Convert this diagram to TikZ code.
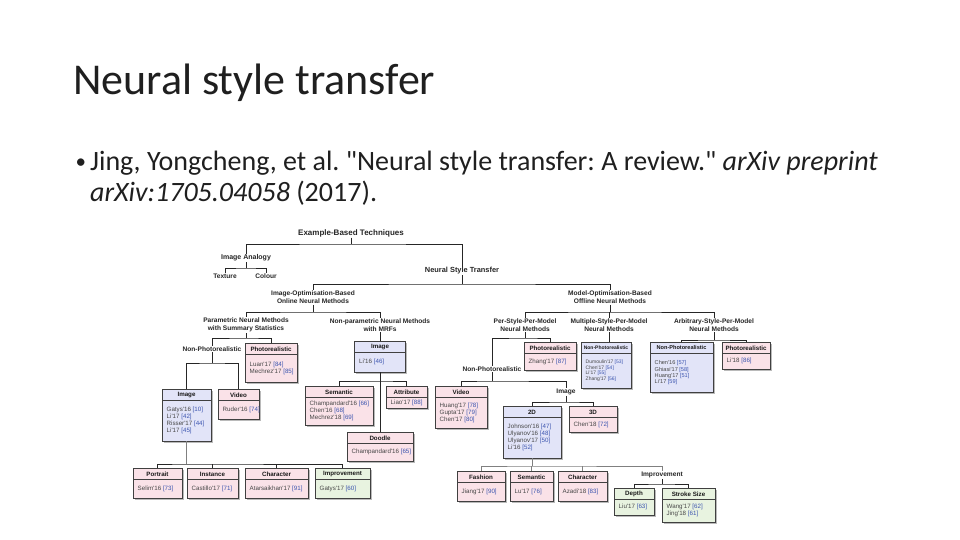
\documentclass[tikz,border=0pt]{standalone}
\usepackage{fontspec}
\setmainfont{Carlito}
\newfontfamily\cfont{Carlito}
\newfontfamily\dfont{Liberation Sans}
\usetikzlibrary{fit,shadows,calc}
\definecolor{pinkf}{RGB}{250,226,232}
\definecolor{lavf}{RGB}{226,228,248}
\definecolor{grnf}{RGB}{232,243,224}
\definecolor{refc}{RGB}{60,85,175}
\newcommand\rf[1]{\textcolor{refc}{[#1]}}
\tikzset{
  lbl/.style={font=\dfont\bfseries\fontsize{6.6}{7.9}\selectfont, text=black!85, align=center, inner sep=0.8pt},
  ubx/.style={draw=black!75, line width=0.7pt, inner sep=0pt,
    drop shadow={shadow xshift=1.6pt, shadow yshift=-1.6pt, opacity=0.45, fill=black!60}},
  sepl/.style={draw=black!75, line width=0.8pt},
  hdr/.style={text=black!90, inner sep=0pt},
  bdy/.style={text=black!72, align=left, inner sep=0pt, anchor=west},
  con/.style={draw=black!85, line width=0.9pt},
  conl/.style={draw=black!50, line width=0.7pt},
  slide/.style={anchor=base west, inner sep=0, text=black!88},
}
% #1 size, #2 name, #3 x1, #4 y1, #5 x2, #6 y2, #7 fill, #8 header, #9 body
\newcommand\ubox[9][6.2]{%
  \node[ubx, fill=#7, fit={(#3,#4)(#5,#6)}] (#2) {};
  \draw[sepl] (#3,{#4+11.5}) -- (#5,{#4+11.5});
  \node[hdr, font=\dfont\bfseries\fontsize{#1}{#1}\selectfont] (#2-h) at ({(#3+#5)/2},{#4+5.9}) {#8};
  \node[bdy, font=\dfont\fontsize{#1}{\fpeval{1.13*#1}}\selectfont] (#2-b) at ({#3+4.5},{(#4+11.5+#6)/2}) {#9};
}
\frenchspacing
\begin{document}
\begin{tikzpicture}[x=1pt,y=-1pt]
\fill[white] (0,0) rectangle (960,540);
\useasboundingbox (0,0) rectangle (960,540);

% slide text
\node[slide, font=\cfont\fontsize{44}{53}\selectfont] (title) at (73,95) {Neural style transfer};
\node[slide, font=\cfont\fontsize{21}{25}\selectfont] (bul) at (75.5,169) {•};
\node[slide, font=\cfont\fontsize{28}{34}\selectfont] (cite1) at (90,171) {Jing, Yongcheng, et al. "Neural style transfer: A review." \textit{arXiv preprint}};
\node[slide, font=\cfont\fontsize{28}{34}\selectfont] (cite2) at (90,201) {\textit{arXiv:1705.04058} (2017).};

% labels
\node[lbl, font=\dfont\bfseries\fontsize{8}{9}\selectfont] (ebt) at (351,233) {Example-Based Techniques};
\node[lbl, font=\dfont\bfseries\fontsize{7}{8}\selectfont] (ia) at (246,258) {Image Analogy};
\node[lbl] (tex) at (225,276) {Texture};
\node[lbl] (col) at (266,276) {Colour};
\node[lbl, font=\dfont\bfseries\fontsize{7.4}{8.5}\selectfont] (nst) at (462,271) {Neural Style Transfer};
\node[lbl] (iob) at (313,297.5) {Image-Optimisation-Based\\Online Neural Methods};
\node[lbl] (mob) at (610,297.5) {Model-Optimisation-Based\\Offline Neural Methods};
\node[lbl] (pnm) at (246,325) {Parametric Neural Methods\\with Summary Statistics};
\node[lbl] (npm) at (380,325) {Non-parametric Neural Methods\\with MRFs};
\node[lbl] (pspm) at (525,325) {Per-Style-Per-Model\\Neural Methods};
\node[lbl] (mspm) at (609,325) {Multiple-Style-Per-Model\\Neural Methods};
\node[lbl] (aspm) at (714,325) {Arbitrary-Style-Per-Model\\Neural Methods};
\node[lbl] (np1) at (212,349) {Non-Photorealistic};
\node[lbl] (np2) at (492,369) {Non-Photorealistic};
\node[lbl] (img3) at (566,392) {Image};
\node[lbl] (impr2) at (662,475) {Improvement};

% boxes
\ubox{ph1}{245}{343}{297}{382}{pinkf}{Photorealistic}{Luan'17 \rf{84}\\Mechrez'17 \rf{85}}
\ubox{im1}{162}{389}{211}{441}{lavf}{Image}{Gatys'16 \rf{10}\\Li'17 \rf{42}\\Risser'17 \rf{44}\\Li'17 \rf{45}}
\ubox{vid1}{218}{389}{259}{419}{pinkf}{Video}{Ruder'16 \rf{74}}
\ubox{im2}{354.5}{341}{405.5}{372}{lavf}{Image}{Li'16 \rf{46}}
\ubox{sem1}{305}{386}{373}{425}{pinkf}{Semantic}{Champandard'16 \rf{66}\\Chen'16 \rf{68}\\Mechrez'18 \rf{69}}
\ubox{att}{386}{386}{427}{408}{pinkf}{Attribute}{Liao'17 \rf{88}}
\ubox{dood}{347}{432}{413}{461}{pinkf}{Doodle}{Champandard'16 \rf{65}}
\ubox{por}{133}{468}{182}{498}{pinkf}{Portrait}{Selim'16 \rf{73}}
\ubox{ins}{187}{468}{238}{498}{pinkf}{Instance}{Castillo'17 \rf{71}}
\ubox{chr1}{245}{468}{308}{498}{pinkf}{Character}{Atarsaikhan'17 \rf{91}}
\ubox{imp1}{315}{468}{370}{498}{grnf}{Improvement}{Gatys'17 \rf{60}}
\ubox{ph2}{524}{342}{576}{370}{pinkf}{Photorealistic}{Zhang'17 \rf{87}}
\ubox{vid2}{435}{386}{487}{428}{pinkf}{Video}{Huang'17 \rf{78}\\Gupta'17 \rf{79}\\Chen'17 \rf{80}}
\ubox{d2}{503}{406}{561}{458}{lavf}{2D}{Johnson'16 \rf{47}\\Ulyanov'16 \rf{48}\\Ulyanov'17 \rf{50}\\Li'16 \rf{52}}
\ubox{d3}{569}{406}{617}{432}{pinkf}{3D}{Chen'18 \rf{72}}
\ubox{fash}{457}{471}{505}{501}{pinkf}{Fashion}{Jiang'17 \rf{90}}
\ubox{sem2}{510}{471}{553}{501}{pinkf}{Semantic}{Lu'17 \rf{76}}
\ubox{chr2}{558}{471}{607}{501}{pinkf}{Character}{Azadi'18 \rf{83}}
\ubox{dep}{614}{488}{654}{515}{grnf}{Depth}{Liu'17 \rf{63}}
\ubox{stk}{662}{488}{715}{522}{grnf}{Stroke Size}{Wang'17 \rf{62}\\Jing'18 \rf{61}}
\ubox[5]{np3}{581}{342}{631}{388}{lavf}{Non-Photorealistic}{Dumoulin'17 \rf{53}\\Chen'17 \rf{54}\\Li'17 \rf{55}\\Zhang'17 \rf{56}}
\ubox[5.6]{np4}{650}{342}{713}{392}{lavf}{Non-Photorealistic}{Chen'16 \rf{57}\\Ghiasi'17 \rf{58}\\Huang'17 \rf{51}\\Li'17 \rf{59}}
\ubox{ph3}{722}{342}{770}{369}{pinkf}{Photorealistic}{Li'18 \rf{86}}

% bus coordinates
\coordinate (b0) at (351,244);
\coordinate (b1) at (246,268);
\coordinate (b2) at (462,284);
\coordinate (b3) at (313,312);
\coordinate (b4) at (610,312);
\coordinate (b5) at (246,338);
\coordinate (b6) at (212,363);
\coordinate (b7) at (186.5,464);
\coordinate (b8) at (380,381);
\coordinate (b9) at (525,338);
\coordinate (b10) at (492,381);
\coordinate (b11) at (566,402);
\coordinate (b12) at (532,466);
\coordinate (b13) at (662,484);
\coordinate (b14) at (714,340);

% connectors
\draw[con] (ebt.south) -- (b0);
\draw[con] (ia.north) |- (b0) -| (nst.north);
\draw[con] (ia.south) -- (b1);
\draw[con] (tex.north) |- (b1) -| (col.north);
\draw[con] (nst.south) -- (b2);
\draw[con] (iob.north) |- (b2) -| (mob.north);
\draw[con] (iob.south) -- (b3);
\draw[con] (pnm.north) |- (b3) -| (npm.north);
\draw[con] (mob.south) -- (b4);
\draw[con] (pspm.north) |- (b4) -| (aspm.north);
\draw[con] (mspm.north) -- (mspm.north |- b4);
\draw[con] (mspm.south) -- (mspm.south |- np3.north);
\draw[con] (pnm.south) -- (b5);
\draw[con] (np1.north) |- (b5) -| (ph1.north);
\draw[con] (np1.south) -- (b6);
\draw[con] (im1.north) |- (b6) -| (vid1.north);
\draw[conl] (im1.south) -- (b7);
\draw[con] (por.north) |- (b7) -| (imp1.north);
\draw[con] (ins.north) -- (ins.north |- b7);
\draw[con] (chr1.north) -- (chr1.north |- b7);
\draw[con] (npm.south) -- (im2.north);
\draw[con] (im2.south) -- (dood.north);
\draw[con] (sem1.north) |- (b8) -| (att.north);
\draw[con] (pspm.south) -- (b9);
\draw[con] (np2.north) |- (b9) -| (ph2.north);
\draw[con] (np2.south) -- (b10);
\draw[con] (vid2.north) |- (b10) -| (img3.north);
\draw[con] (img3.south) -- (b11);
\draw[con] (d2.north) |- (b11) -| (d3.north);
\draw[conl] (d2.south) -- (b12);
\draw[conl] (fash.north) |- (b12) -| (impr2.north);
\draw[conl] (sem2.north) -- (sem2.north |- b12);
\draw[conl] (chr2.north) -- (chr2.north |- b12);
\draw[con] (impr2.south) -- (b13);
\draw[con] (dep.north) |- (b13) -| (stk.north);
\draw[con] (aspm.south) -- (b14);
\draw[con] (np4.north) |- (b14) -| (ph3.north);
\end{tikzpicture}
\end{document}
